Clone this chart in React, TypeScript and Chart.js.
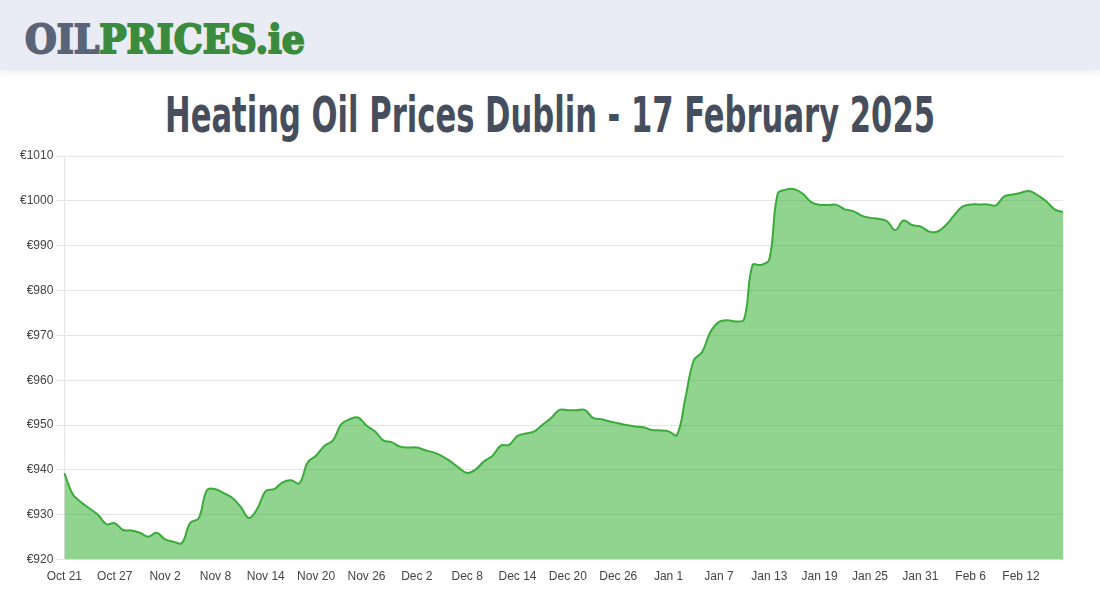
import React, { useEffect, useLayoutEffect, useRef } from "react";
import { Chart, registerables } from "chart.js";

Chart.register(...registerables);

const startDate = "2024-10-21";
const dayCount = 120;
const monthNames = ["Jan","Feb","Mar","Apr","May","Jun","Jul","Aug","Sep","Oct","Nov","Dec"];

const tickLabels = [
  "Oct 21","Oct 27","Nov 2","Nov 8","Nov 14","Nov 20","Nov 26","Dec 2","Dec 8","Dec 14",
  "Dec 20","Dec 26","Jan 1","Jan 7","Jan 13","Jan 19","Jan 25","Jan 31","Feb 6","Feb 12",
];

const prices = [
  939.3, 934.6, 932.8, 931.4, 930.0, 927.9, 928.1, 926.6, 926.5, 926.0,
  925.1, 926.0, 924.5, 924.0, 923.7, 928.2, 929.2, 935.5, 935.7, 934.8,
  933.8, 931.8, 929.3, 931.4, 935.3, 935.7, 937.2, 937.7, 937.0, 941.7,
  943.2, 945.4, 946.6, 950.2, 951.3, 951.7, 949.9, 948.6, 946.6, 946.2,
  945.2, 945.0, 945.0, 944.4, 943.9, 943.1, 941.9, 940.5, 939.3, 940.1,
  941.9, 943.1, 945.4, 945.6, 947.6, 948.1, 948.6, 950.1, 951.6, 953.4,
  953.3, 953.3, 953.4, 951.6, 951.3, 950.8, 950.4, 950.0, 949.7, 949.5,
  948.9, 948.8, 948.6, 947.8, 956.0, 964.4, 966.3, 970.8, 973.0, 973.4,
  973.1, 973.6, 985.7, 985.7, 986.9, 1001.6, 1002.5, 1002.6, 1001.6, 999.7,
  999.1, 999.1, 999.1, 998.1, 997.7, 996.7, 996.2, 996.0, 995.5, 993.5,
  995.6, 994.6, 994.3, 993.2, 993.1, 994.5, 996.7, 998.7, 999.2, 999.2,
  999.2, 999.0, 1001.0, 1001.4, 1001.8, 1002.2, 1001.2, 999.9, 998.1, 997.5,
];

const yMin = 920;
const yMax = 1010;
const yStep = 10;

function buildCategories(): string[] {
  const out: string[] = [];
  const d = new Date(startDate + "T12:00:00Z");
  for (let i = 0; i < dayCount; i++) {
    const c = new Date(d.getTime() + i * 86400000);
    out.push(monthNames[c.getUTCMonth()] + " " + c.getUTCDate());
  }
  return out;
}

function FitText({ text, width, style }: { text: React.ReactNode; width: number; style: React.CSSProperties }) {
  const ref = useRef<HTMLSpanElement>(null);
  useLayoutEffect(() => {
    const el = ref.current;
    if (!el) return;
    el.style.transform = "none";
    const w = el.getBoundingClientRect().width;
    if (w > 0) el.style.transform = `scaleX(${width / w})`;
  }, [width]);
  return (
    <span ref={ref} style={{ display: "inline-block", whiteSpace: "nowrap", transformOrigin: "left top", ...style }}>
      {text}
    </span>
  );
}

export default function App() {
  const canvasRef = useRef<HTMLCanvasElement>(null);

  useEffect(() => {
    if (!canvasRef.current) return;
    const categories = buildCategories();
    const tickSet = new Set(tickLabels);
    const chart = new Chart(canvasRef.current, {
      type: "line",
      data: {
        labels: categories,
        datasets: [
          {
            data: prices,
            borderColor: "#3aab3a",
            backgroundColor: "rgba(34,170,34,0.5)",
            borderWidth: 2,
            fill: "start",
            tension: 0.4,
            pointRadius: 0,
            pointHoverRadius: 0,
          },
        ],
      },
      options: {
        animation: false,
        responsive: false,
        maintainAspectRatio: false,
        layout: { padding: { left: 17, right: 37, top: 16, bottom: 14 } },
        plugins: { legend: { display: false }, tooltip: { enabled: false } },
        scales: {
          x: {
            grid: { display: false },
            border: { display: false },
            ticks: {
              autoSkip: false,
              maxRotation: 0,
              padding: 2,
              color: "#444",
              font: { family: "'Liberation Sans', Arial, sans-serif", size: 12 },
              callback: function (this: any, _v: any, i: number) {
                const l = categories[i];
                return tickSet.has(l) ? l : "";
              },
            },
          },
          y: {
            min: yMin,
            max: yMax,
            grid: { color: "#e5e5e5", tickLength: 8 },
            border: { color: "#e5e5e5" },
            ticks: {
              stepSize: yStep,
              padding: 3,
              color: "#444",
              font: { family: "'Liberation Sans', Arial, sans-serif", size: 12 },
              callback: (v: any) => "€" + v,
            },
          },
        },
      },
    });
    return () => chart.destroy();
  }, []);

  return (
    <div style={{ position: "absolute", left: 0, top: 0, width: 1100, height: 600, background: "#fff", overflow: "hidden" }}>
      <div
        style={{
          position: "absolute",
          left: 0,
          top: 0,
          width: 1100,
          height: 70,
          background: "#e9ecf4",
          boxShadow: "0 3px 8px rgba(0,0,0,0.07)",
        }}
      >
        <div style={{ position: "absolute", left: 25, top: 16 }}>
          <FitText
            width={280}
            text={
              <>
                <span style={{ color: "#5a6479", WebkitTextStroke: "2px #5a6479" }}>OIL</span>
                <span style={{ color: "#3a8b3d", WebkitTextStroke: "2px #3a8b3d" }}>PRICES.ie</span>
              </>
            }
            style={{ fontFamily: "'DejaVu Serif', serif", fontWeight: 900, fontSize: 40, lineHeight: "46px" }}
          />
        </div>
      </div>
      <div style={{ position: "absolute", left: 165, top: 85 }}>
        <FitText
          width={770}
          text="Heating Oil Prices Dublin - 17 February 2025"
          style={{
            fontFamily: "'Liberation Sans Narrow', 'DejaVu Sans Condensed', 'Liberation Sans', sans-serif",
            fontWeight: 700,
            fontSize: 50,
            lineHeight: "60px",
            color: "#464e5e",
          }}
        />
      </div>
      <canvas ref={canvasRef} width={1100} height={460} style={{ position: "absolute", left: 0, top: 140, width: 1100, height: 460 }} />
    </div>
  );
}
